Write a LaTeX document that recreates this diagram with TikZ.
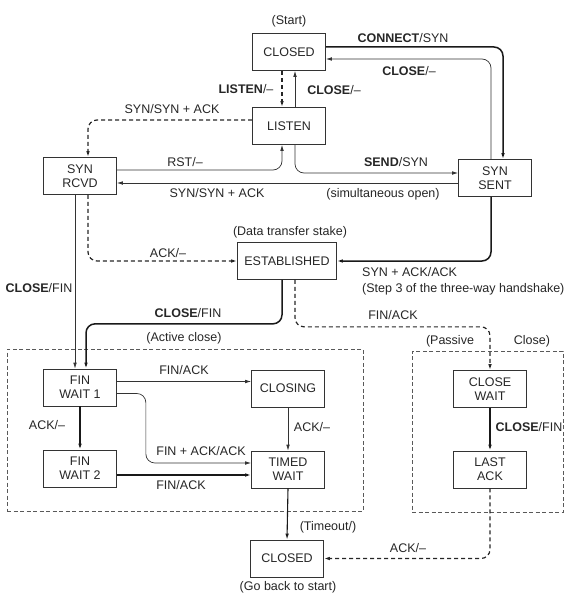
\documentclass[tikz,border=0pt]{standalone}
\usepackage{fontspec}
\setmainfont{Liberation Sans}
\usetikzlibrary{arrows.meta,calc}
\begin{document}
\begin{tikzpicture}[x=1pt,y=-1pt,
  every node/.style={font=\fontsize{12.5}{14}\selectfont, text=black!85},
  state/.style={draw=black!80, line width=0.7pt, minimum width=73pt, minimum height=37pt, inner sep=0pt, align=center},
  lbl/.style={inner sep=0pt, align=center},
  tip/.style={-{Latex[length=6pt,width=3.6pt]}},
  thinln/.style={tip, line width=0.7pt, draw=black!80, rounded corners=9pt},
  thickln/.style={tip, line width=1.5pt, draw=black!90, rounded corners=9pt},
  dashln/.style={tip, line width=1.2pt, draw=black!85, dash pattern=on 4pt off 3pt, rounded corners=9pt},
  boxdash/.style={draw=black!65, line width=0.7pt, dash pattern=on 4pt off 2.5pt, inner sep=0pt}
]
\useasboundingbox (0,0) rectangle (575,607);

% dashed region boxes
\node[boxdash, minimum width=356pt, minimum height=162pt] (activebox) at (185,430) {};
\node[boxdash, minimum width=151pt, minimum height=161pt] (passivebox) at (487.5,431.5) {};

% states
\node[state] (closed) at (289,52) {CLOSED};
\node[state] (listen) at (289,126) {LISTEN};
\node[state] (synsent) at (495,178) {SYN\\SENT};
\node[state] (synrcvd) at (80,176) {SYN\\RCVD};
\node[state, minimum width=99pt] (estab) at (287,261) {ESTABLISHED};
\node[state] (fw1) at (80,387.5) {FIN\\WAIT 1};
\node[state] (closing) at (288,388.5) {CLOSING};
\node[state] (fw2) at (80,468.5) {FIN\\WAIT 2};
\node[state] (timed) at (288,469.5) {TIMED\\WAIT};
\node[state] (closewait) at (490,389) {CLOSE\\WAIT};
\node[state] (lastack) at (490,469.5) {LAST\\ACK};
\node[state] (closed2) at (287,558.5) {CLOSED};

% labels
\node[lbl] (lstart) at (289,21) {(Start)};
\node[lbl] (lconnect) at (403,38) {\textbf{CONNECT}/SYN};
\node[lbl] (lclose1) at (409,71) {\textbf{CLOSE}/–};
\node[lbl] (llisten) at (246,89) {\textbf{LISTEN}/–};
\node[lbl] (lclose2) at (334,90) {\textbf{CLOSE}/–};
\node[lbl] (lsynsyn1) at (172,109) {SYN/SYN + ACK};
\node[lbl] (lrst) at (185,162) {RST/–};
\node[lbl] (lsend) at (396,162) {\textbf{SEND}/SYN};
\node[lbl] (lsynsyn2) at (217,193) {SYN/SYN + ACK};
\node[lbl] (lsim) at (383,194) {(simultaneous open)};
\node[lbl] (ldata) at (290,232) {(Data transfer stake)};
\node[lbl] (lack1) at (168,253) {ACK/–};
\node[lbl, anchor=west] (lsynack) at (362,272) {SYN + ACK/ACK};
\node[lbl, anchor=west] (lstep) at (362,289) {(Step 3 of the three-way handshake)};
\node[lbl] (lclosefin1) at (39,288) {\textbf{CLOSE}/FIN};
\node[lbl] (lclosefin2) at (188,313) {\textbf{CLOSE}/FIN};
\node[lbl] (lfinack1) at (393,315) {FIN/ACK};
\node[lbl] (lactive) at (184,338) {(Active close)};
\node[lbl] (lpassive) at (450,341) {(Passive};
\node[lbl] (lpclose) at (532,341) {Close)};
\node[lbl] (lfinack2) at (184,370) {FIN/ACK};
\node[lbl] (lack2) at (47,425) {ACK/–};
\node[lbl] (lack3) at (312,427) {ACK/–};
\node[lbl] (lclosefin3) at (529,427) {\textbf{CLOSE}/FIN};
\node[lbl] (lfinackack) at (201,451) {FIN + ACK/ACK};
\node[lbl] (lfinack3) at (181,485) {FIN/ACK};
\node[lbl] (ltimeout) at (328,527) {(Timeout/)};
\node[lbl] (lack4) at (408,548) {ACK/–};
\node[lbl] (lgoback) at (288,587) {(Go back to start)};

% connectors
\draw[dashln] ([xshift=-7pt]closed.south) -- ([xshift=-7pt]listen.north);
\draw[thinln] ([xshift=6pt]listen.north) -- ([xshift=6pt]closed.south);
\draw[thickln] ([yshift=5pt]closed.east) -| ([xshift=8pt]synsent.north);
\draw[thinln] ([xshift=-4pt]synsent.north) |- ([yshift=-7pt]closed.east);
\draw[thinln] ([xshift=6pt]listen.south) |- ([yshift=5pt]synsent.west);
\draw[thinln] ([yshift=6pt]synrcvd.east) -| ([xshift=-7pt]listen.south);
\coordinate (ss) at ([yshift=-5pt]synsent.west);
\draw[thinln] (ss) -- (synrcvd.east |- ss);
\draw[dashln] ([yshift=6pt]listen.west) -| ([xshift=8pt]synrcvd.north);
\draw[dashln] ([xshift=8pt]synrcvd.south) |- (estab.west);
\draw[thickln] ([xshift=-4pt]synsent.south) |- (estab.east);
\draw[thinln] ([xshift=-5pt]synrcvd.south) -- ([xshift=-5pt]fw1.north);
\draw[thickln] ([xshift=-5pt]estab.south) -- ++(0,44) -| ([xshift=6pt]fw1.north);
\draw[dashln] ([xshift=8pt]estab.south) -- ++(0,47) -| (closewait.north);
\coordinate (f1a) at ([yshift=6pt]fw1.east);
\draw[thinln] (f1a) -- (closing.west |- f1a);
\draw[thickln] (fw1.south) -- (fw2.north);
\draw[thinln] ([yshift=-6pt]fw1.east) -- ++(29,0) |- ([yshift=6.5pt]timed.west);
\draw[thinln] (closing.south) -- (timed.north);
\coordinate (f2a) at ([yshift=-6.5pt]fw2.east);
\draw[thickln] (f2a) -- (timed.west |- f2a);
\draw[thickln, line width=1.1pt] (timed.south) -- (closed2.north);
\draw[thickln] (closewait.south) -- (lastack.north);
\draw[dashln] (lastack.south) |- (closed2.east);
\end{tikzpicture}
\end{document}
